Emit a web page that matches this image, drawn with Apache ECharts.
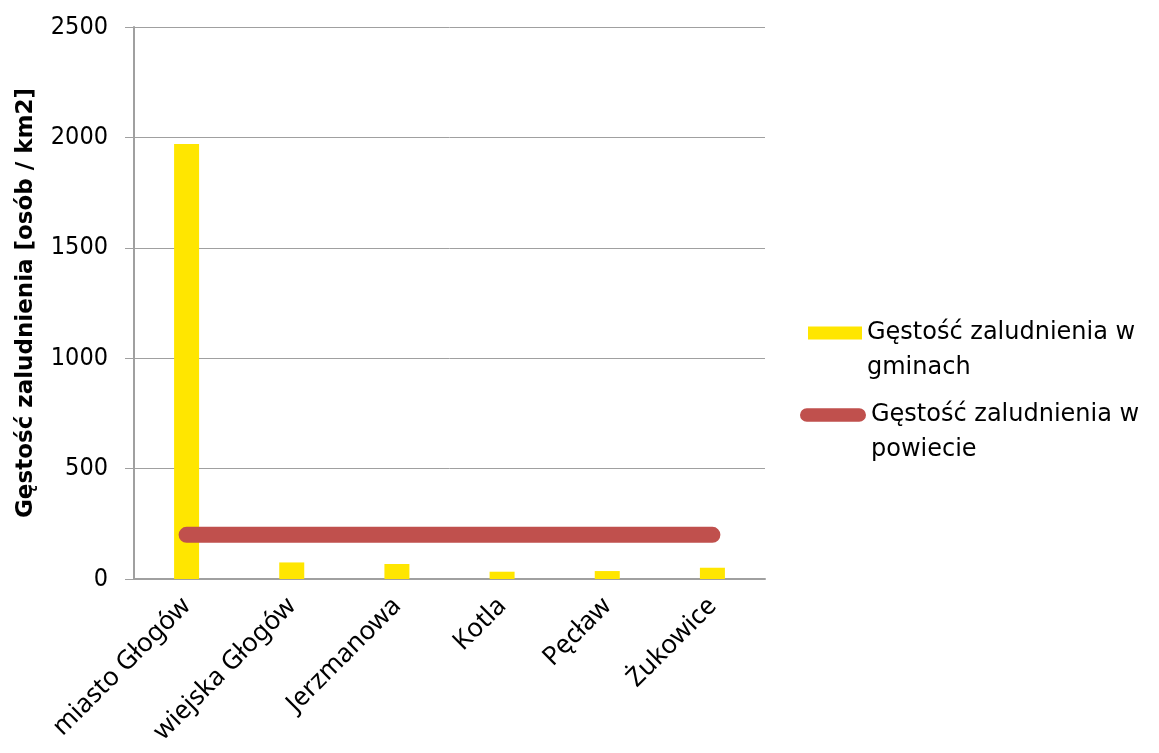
<!DOCTYPE html>
<html><head><meta charset="utf-8">
<script src="https://cdn.jsdelivr.net/npm/echarts@6/dist/echarts.min.js"></script>
<style>html,body{margin:0;padding:0;background:#fff}#c{width:1159px;height:753px}</style>
</head><body><div id="c"></div>
<script>
const categories = ['miasto Głogów','wiejska Głogów','Jerzmanowa','Kotla','Pęcław','Żukowice'];
const gminyValues = [1970, 75, 68, 33, 36, 51];
const powiatValues = [200, 200, 200, 200, 200, 200];
const seriesNames = ['Gęstość zaludnienia w gminach','Gęstość zaludnienia w powiecie'];
const legendLines = [['Gęstość zaludnienia w','gminach'],['Gęstość zaludnienia w','powiecie']];
const yTitle = 'Gęstość zaludnienia [osób / km2]';

const chart = echarts.init(document.getElementById('c'));
const font = 'DejaVu Sans';
function legendFmt(i){ return '{e| }\n{a|'+legendLines[i][0]+'}\n{a|'+legendLines[i][1]+'}'; }
const richLeg = { e:{lineHeight:35,fontSize:24,fontFamily:font}, a:{lineHeight:35,fontSize:24,fontFamily:font,color:'#000'} };
chart.setOption({
  animation:false,
  grid:{left:134,right:394,top:27,bottom:174},
  legend:[
    {data:[{name:seriesNames[0],icon:'rect'}],orient:'vertical',left:803,top:281,itemWidth:54,itemHeight:13,
     formatter:()=>legendFmt(0),textStyle:{rich:richLeg}},
    {data:[{name:seriesNames[1],icon:'path://M7,0 L61,0 A7,7 0 0 1 61,14 L7,14 A7,7 0 0 1 7,0 Z'}],orient:'vertical',left:795,top:363,itemWidth:66,itemHeight:14,
     formatter:()=>legendFmt(1),textStyle:{rich:richLeg}}
  ],
  xAxis:{type:'category',data:categories,
    axisLine:{lineStyle:{color:'#a0a0a0',width:2}},axisTick:{show:false},
    axisLabel:{rotate:45,interval:0,margin:23,fontFamily:'Noto Sans',fontSize:26,color:'#000'}},
  yAxis:{type:'value',min:0,max:2500,interval:500,
    name:yTitle,nameLocation:'middle',nameGap:96,nameRotate:90,
    nameTextStyle:{fontFamily:font,fontWeight:'bold',fontSize:23,color:'#000'},
    axisLine:{show:true,lineStyle:{color:'#a0a0a0',width:2}},
    axisTick:{show:true,length:9,lineStyle:{color:'#a0a0a0'}},
    splitLine:{lineStyle:{color:'#a0a0a0',width:1}},
    axisLabel:{margin:26,fontFamily:'DejaVu Sans Condensed',fontSize:25,color:'#000',formatter:v=>String(v)}},
  series:[
    {name:seriesNames[0],type:'bar',data:gminyValues,barWidth:25,itemStyle:{color:'#ffe600'}},
    {name:seriesNames[1],type:'line',data:powiatValues,symbol:'none',
     lineStyle:{color:'#c0504d',width:16,cap:'round'},itemStyle:{color:'#c0504d'}}
  ]
});
</script></body></html>
